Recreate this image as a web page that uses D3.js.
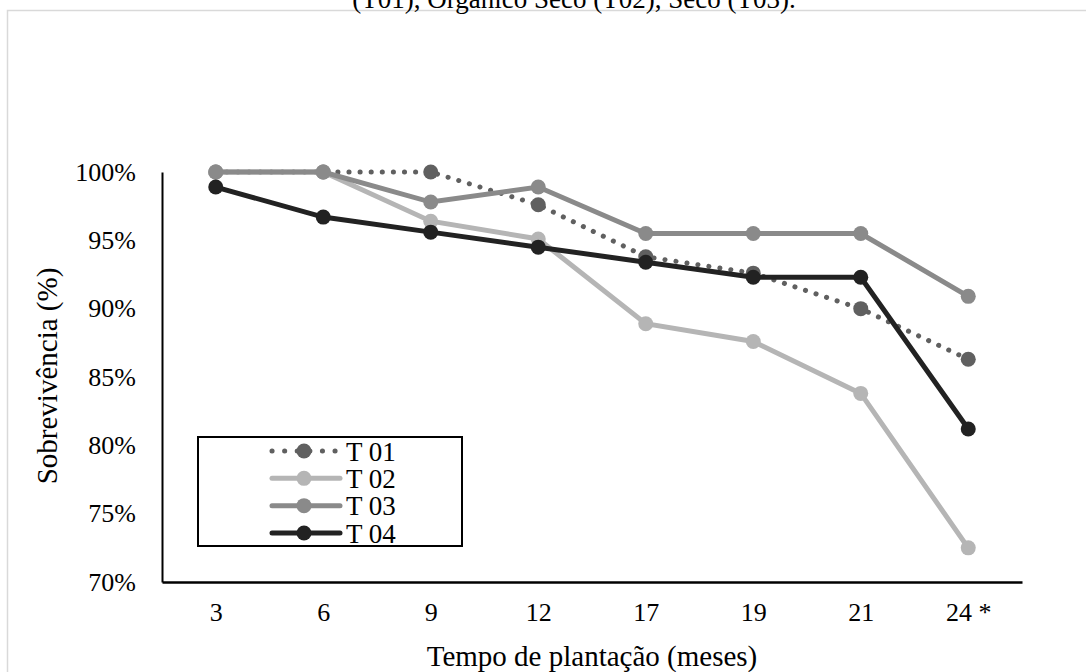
<!DOCTYPE html>
<html>
<head>
<meta charset="utf-8">
<script src="https://cdn.jsdelivr.net/npm/d3@7"></script>
<style>
  body { margin: 0; background: #fff; }
  text { font-family: "Liberation Serif", "Times New Roman", serif; fill: #000; }
</style>
</head>
<body>
<svg id="chart" width="1086" height="672"></svg>
<script>
// categories (months) and survival series in %
var months = ["3", "6", "9", "12", "17", "19", "21", "24 *"];
var t01 = [100, 100, 100, 97.6, 93.8, 92.6, 90.0, 86.3];
var t02 = [100, 100, 96.4, 95.1, 88.9, 87.6, 83.8, 72.5];
var t03 = [100, 100, 97.8, 98.9, 95.5, 95.5, 95.5, 90.9];
var t04 = [98.9, 96.7, 95.6, 94.5, 93.4, 92.3, 92.3, 81.2];
var seriesNames = ["T 01", "T 02", "T 03", "T 04"];
var yTicks = [70, 75, 80, 85, 90, 95, 100];

var series = [
  {name: seriesNames[0], values: t01, color: "#606060", dotted: true},
  {name: seriesNames[1], values: t02, color: "#b5b5b5"},
  {name: seriesNames[2], values: t03, color: "#8a8a8a"},
  {name: seriesNames[3], values: t04, color: "#222222"}
];

var svg = d3.select("#chart");

// light frame around the figure
svg.append("rect").attr("x", 7.5).attr("y", 10.5).attr("width", 1100).attr("height", 700)
  .attr("fill", "none").attr("stroke", "#d9d9d9").attr("stroke-width", 1.5);

// clipped caption line at the top
svg.append("text").attr("x", 574).attr("y", 8).attr("text-anchor", "middle")
  .style("font-size", "27px").text("(T01), Orgânico Seco (T02), Seco (T03).");

// plot area edges
var pLeft = 162, pRight = 1022, pTop = 172, pBottom = 582;

var x = d3.scalePoint().domain(months).range([pLeft, pRight]).padding(0.5);
var y = d3.scaleLinear().domain([70, 100]).range([pBottom, pTop]);

// axes
var yAxis = svg.append("g").attr("transform", "translate(" + pLeft + ",0)")
  .call(d3.axisLeft(y).tickValues(yTicks).tickSize(0).tickPadding(26).tickFormat(function(d){ return d + "%"; }));
yAxis.select(".domain").attr("stroke", "#000").attr("stroke-width", 2);
yAxis.selectAll("text").style("font-size", "26px");

var xAxis = svg.append("g").attr("transform", "translate(0," + pBottom + ")")
  .call(d3.axisBottom(x).tickSize(0).tickPadding(21));
xAxis.select(".domain").attr("stroke", "#000").attr("stroke-width", 2.5);
xAxis.selectAll("text").style("font-size", "26px");

// axis titles
svg.append("text").attr("x", 592).attr("y", 666).attr("text-anchor", "middle")
  .style("font-size", "29px").text("Tempo de plantação (meses)");
svg.append("text").attr("transform", "translate(57,376) rotate(-90)").attr("text-anchor", "middle")
  .style("font-size", "29px").text("Sobrevivência (%)");

var line = d3.line().x(function(d, i){ return x(months[i]); }).y(function(d){ return y(d); });

// draw back to front: T01 behind, T04 on top
series.forEach(function(s){
  var g = svg.append("g");
  g.append("path").datum(s.values).attr("d", line)
    .attr("fill", "none").attr("stroke", s.color).attr("stroke-width", 5)
    .attr("stroke-linecap", "round")
    .attr("stroke-dasharray", s.dotted ? "0.1 11" : null);
  g.selectAll("circle").data(s.values).enter().append("circle")
    .attr("cx", function(d, i){ return x(months[i]); })
    .attr("cy", function(d){ return y(d); })
    .attr("r", 7.5).attr("fill", s.color);
});

// legend
var legend = svg.append("g");
legend.append("rect").attr("x", 198).attr("y", 437).attr("width", 264).attr("height", 109)
  .attr("fill", "#fff").attr("stroke", "#000").attr("stroke-width", 2);
var rowY = d3.scalePoint().domain(seriesNames).range([451, 533]);
series.forEach(function(s){
  var ry = rowY(s.name);
  legend.append("line").attr("x1", 272).attr("x2", 340).attr("y1", ry).attr("y2", ry)
    .attr("stroke", s.color).attr("stroke-width", 5).attr("stroke-linecap", "round")
    .attr("stroke-dasharray", s.dotted ? "0.1 12.5" : null);
  legend.append("circle").attr("cx", 304).attr("cy", ry).attr("r", 7.5).attr("fill", s.color);
  legend.append("text").attr("x", 346).attr("y", ry).attr("dy", "0.36em")
    .style("font-size", "27px").text(s.name);
});
</script>
</body>
</html>
